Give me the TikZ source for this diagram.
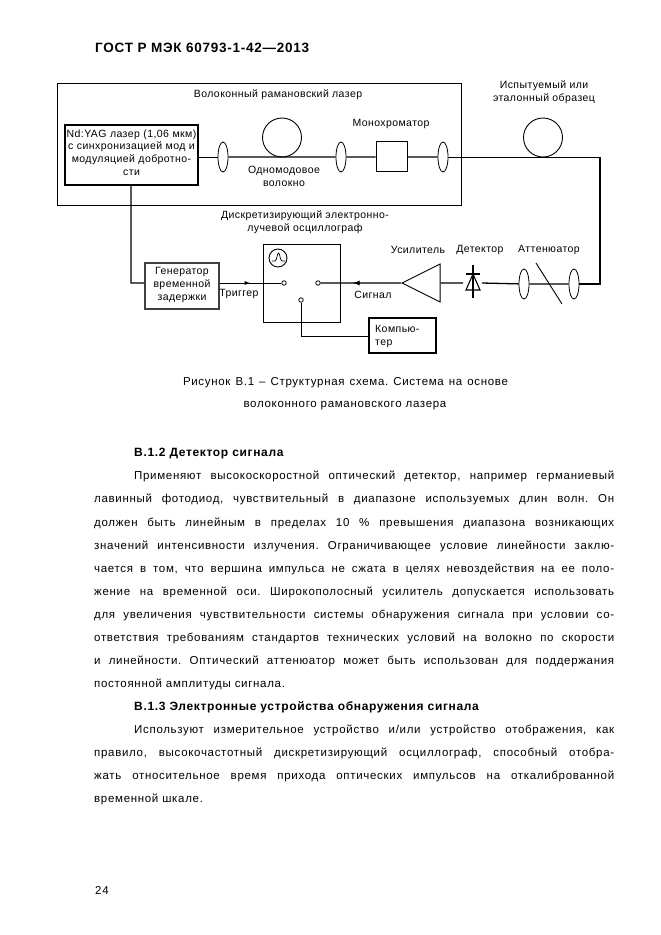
\documentclass[tikz,border=0pt]{standalone}
\usepackage{fontspec}
\setmainfont{Liberation Sans}
\newfontfamily\labelfont[LetterSpace=4]{Liberation Sans}
\newfontfamily\bodyfont[LetterSpace=6]{Liberation Sans}
\newfontfamily\headfont[LetterSpace=5.5]{Liberation Sans Bold}
\frenchspacing
\usetikzlibrary{
    arrows,
    shapes.geometric,
    positioning
}
\tikzset{
    wire/.style={line width=0.9pt},
    heavy/.style={line width=1.3pt},
    block/.style={draw, fill=white, line width=1pt, inner sep=0pt, align=center},
    lens/.style={draw, ellipse, fill=white, line width=0.8pt, inner sep=0pt, minimum width=10pt, minimum height=30pt},
    coil/.style={draw, circle, line width=0.9pt, inner sep=0pt, minimum size=39pt},
    port/.style={draw, circle, fill=white, line width=0.8pt, inner sep=0pt, minimum size=4.5pt},
    lbl/.style={font=\labelfont\fontsize{10.5}{13}\selectfont, inner sep=0pt, align=center},
    capt/.style={font=\bodyfont\fontsize{11.5}{14}\selectfont, inner sep=0pt},
    bodyline/.style={font=\bodyfont\fontsize{11.5}{14}\selectfont, inner sep=0pt, anchor=base west},
    head/.style={font=\headfont\fontsize{12}{14}\selectfont, inner sep=0pt, anchor=base west}
}
\begin{document}
\begin{tikzpicture}[x=1pt, y=-1pt]
    \useasboundingbox (0, 0) rectangle (661, 935);
    \node[head] (title) at (95, 52) {\fontsize{13.5}{14}\selectfont ГОСТ Р МЭК 60793-1-42—2013};

    % laser part
    \node[block, line width=0.8pt, minimum width=404pt, minimum height=122pt] (raman) at (259, 144) {};
    \node[lbl] (ramantext) at (278, 95) {Волоконный рамановский лазер};
    \node[block, line width=1.4pt, minimum width=133pt, minimum height=60pt] (laser) at (131.5, 155) {};
    \node[lbl, text width=133pt] (lasertext) at (131.5, 152.5) {Nd:YAG лазер (1,06 мкм)\\[-0.6pt]с синхронизацией мод и\\модуляцией добротно-\\сти};
    \node[lens] (lensa) at (223, 157) {};
    \node[coil] (fiber) at (282, 137.5) {};
    \node[lens] (lensb) at (341, 157) {};
    \node[block, line width=0.9pt, minimum width=31pt, minimum height=30pt] (mono) at (391.5, 156) {};
    \node[lens] (lensc) at (443, 157) {};
    \node[lbl] (monotext) at (391, 124) {Монохроматор};
    \node[lbl] (fibertext) at (284, 176.5) {Одномодовое\\волокно};

    % sample
    \node[coil] (sample) at (543, 137.5) {};
    \node[lbl] (sampletext) at (544, 92) {Испытуемый или\\эталонный образец};
    \coordinate (bend) at (600, 157);

    % lower row
    \node[lbl] (scopetext) at (305, 222) {Дискретизирующий электронно-\\лучевой осциллограф};
    \node[block, line width=1pt, minimum width=77pt, minimum height=78pt] (scope) at (301.5, 283) {};
    \node[draw, circle, line width=0.9pt, inner sep=0pt, minimum size=18pt] (screen) at (278, 258) {};
    \node[port] (inport) at (284, 283) {};
    \node[port] (outport) at (318, 283) {};
    \node[port] (pcport) at (301, 300) {};
    \node[block, line width=1.3pt, draw=black!75, minimum width=74pt, minimum height=46pt] (delay) at (182, 286) {};
    \node[lbl, text depth=0pt] (delaytext) at (182, 284) {Генератор\\временной\\задержки};
    \node[block, line width=1.2pt, minimum width=67pt, minimum height=35pt] (pc) at (402.5, 335.5) {};
    \node[lbl, align=left, anchor=west] (pctext) at (375, 336) {Компью-\\тер};
    \node[draw, isosceles triangle, isosceles triangle stretches, shape border rotate=180, fill=white,
        line width=0.9pt, inner sep=0pt, minimum width=38pt, minimum height=38pt, anchor=apex] (amp) at (401, 283) {};
    \coordinate (diodein) at (463, 283);
    \coordinate (diodeout) at (482, 283);
    \node[lens] (lensd) at (524, 284) {};
    \node[lens] (lense) at (574, 284) {};
    \coordinate (trigtail) at (243, 283);
    \coordinate (trigtip) at (250, 283);
    \coordinate (sigtail) at (360, 283);
    \coordinate (sigtip) at (353, 283);
    \node[lbl] (trigtext) at (239, 294) {Триггер};
    \node[lbl] (sigtext) at (373, 295) {Сигнал};
    \node[lbl] (amptext) at (418, 250) {Усилитель};
    \node[lbl] (dettext) at (480, 250) {Детектор};
    \node[lbl] (atttext) at (549, 250) {Аттенюатор};

    \draw[wire]
    (laser.east |- lensa) -- (lensa)
    (delay.east |- inport) -- (inport)
    (trigtail) edge[->, >=latex] (trigtip)
    (pcport) |- (pc.west |- 0, 336);
    \draw[heavy]
    (lensa) -- (lensb)
    (lensb) -- (mono.west |- lensb)
    (mono.east |- lensc) -- (lensc)
    (laser.south -| 131, 0) |- (delay.west |- inport)
    (outport) -- (amp.apex)
    (sigtail) edge[->, >=latex] (sigtip)
    (amp.lower side) -- (diodein)
    (diodeout) -- (lensd)
    (lensd) -- (lense);
    \draw[wire] (lensc) -- (bend);
    \draw[heavy] (bend) |- (lense);

    % diode, attenuator slash, pulse on the screen
    \draw[line width=1.1pt, fill=white] (466, 290) -- (480, 290) -- (473, 274) -- cycle;
    \draw[line width=1.1pt] (466, 274) -- (480, 274) (473, 265) -- (473, 298);
    \draw[wire] (536, 263) -- (562, 304);
    \draw[line width=0.7pt] (272, 261) -- (275, 261) .. controls (277, 261) and (277, 253) .. (278.5, 253)
    .. controls (280, 253) and (280, 261) .. (282, 261) -- (285, 261);

    % text below the figure
    \node[capt] (captiona) at (345.5, 383) {\makebox[325pt][s]{Рисунок В.1 – Структурная схема. Система на основе}};
    \node[capt] (captionb) at (345, 406) {волоконного рамановского лазера};
    \node[head] (heada) at (134, 456) {В.1.2 Детектор сигнала};
    \node[head] (headb) at (134, 710) {В.1.3 Электронные устройства обнаружения сигнала};
    \foreach \ypos/\txt in {
        479/{Применяют высокоскоростной оптический детектор, например германиевый},
        733/{Используют измерительное устройство и/или устройство отображения, как}}
        \node[bodyline] (line\ypos) at (134, \ypos) {\makebox[480pt][s]{\txt}};
    \foreach \ypos/\txt in {
        502/{лавинный фотодиод, чувствительный в диапазоне используемых длин волн. Он},
        526/{должен быть линейным в пределах 10 \% превышения диапазона возникающих},
        549/{значений интенсивности излучения. Ограничивающее условие линейности заклю-},
        572/{чается в том, что вершина импульса не сжата в целях невоздействия на ее поло-},
        595/{жение на временной оси. Широкополосный усилитель допускается использовать},
        618/{для увеличения чувствительности системы обнаружения сигнала при условии со-},
        641/{ответствия требованиям стандартов технических условий на волокно по скорости},
        664/{и линейности. Оптический аттенюатор может быть использован для поддержания},
        756/{правило, высокочастотный дискретизирующий осциллограф, способный отобра-},
        779/{жать относительное время прихода оптических импульсов на откалиброванной}}
        \node[bodyline] (line\ypos) at (94, \ypos) {\makebox[520pt][s]{\txt}};
    \node[bodyline] (lastb) at (94, 687) {постоянной амплитуды сигнала.};
    \node[bodyline] (lastc) at (94, 802) {временной шкале.};
    \node[bodyline] (pagenum) at (95, 894) {24};
\end{tikzpicture}
\end{document}
